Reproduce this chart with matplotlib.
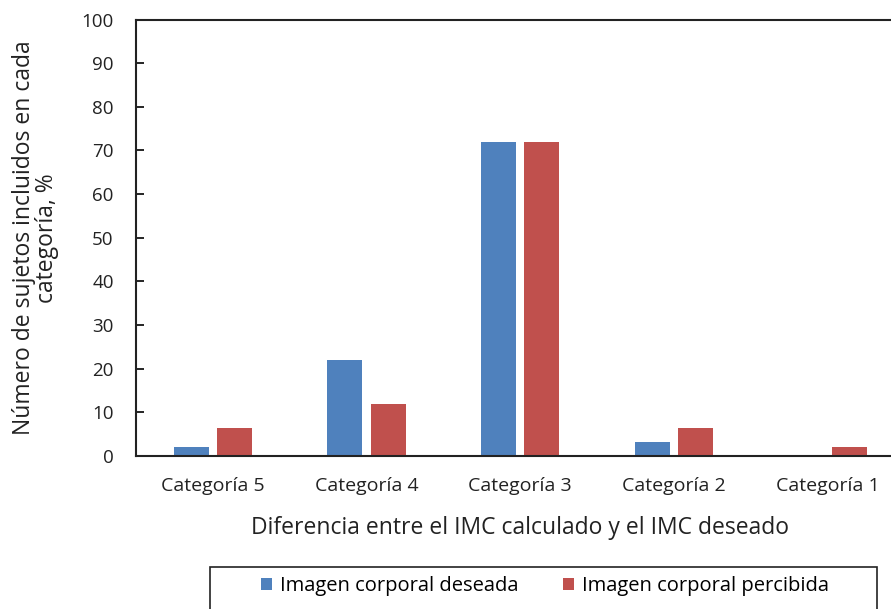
import numpy as np
from matplotlib import pyplot as plt
from matplotlib.patches import Rectangle

categorias = ["Categoría 5", "Categoría 4", "Categoría 3", "Categoría 2", "Categoría 1"]
deseada = [2, 22, 72, 3.3, 0]
percibida = [6.5, 12, 72, 6.5, 2]
y_ticks = list(range(0, 101, 10))

plt.rcParams['font.family'] = ['Open Sans', 'DejaVu Sans']

fig = plt.figure(figsize=(8.91, 6.09), dpi=100)
ax = fig.add_axes([0.1526, 0.2512, 0.8625, 0.7167])

x = np.arange(len(categorias))
w = 0.228
off = 0.141
ax.bar(x - off, deseada, w, color='#4F81BD', label="Imagen corporal deseada")
ax.bar(x + off, percibida, w, color='#C0504D', label="Imagen corporal percibida")

ax.set_xlim(-0.5, len(categorias) - 0.5)
ax.set_ylim(0, 100)
ax.set_yticks(y_ticks)
ax.set_xticks(x)
ax.set_xticklabels(categorias, fontsize=14, color='#222222')
ax.tick_params(axis='x', length=0, pad=15)
ax.tick_params(axis='y', direction='in', length=6, width=1.2, labelsize=13.5,
               labelcolor='#222222', pad=16)

for s in ax.spines.values():
    s.set_linewidth(1.5)
    s.set_color('#222222')

ax.set_xlabel("Diferencia entre el IMC calculado y el IMC deseado", fontsize=16.5,
              color='#222222', labelpad=15)
ax.set_ylabel("Número de sujetos incluidos en cada\ncategoría, %", fontsize=16.5,
              color='#222222', labelpad=16, multialignment='center', linespacing=0.95)

# legend box spans wider than its entries, so draw the frame separately
fig.patches.append(Rectangle((210 / 891, 1 - 612 / 609), 667 / 891, 45 / 609,
                             transform=fig.transFigure, fill=False,
                             edgecolor='#222222', linewidth=1.2))
fig.legend(loc='center', bbox_to_anchor=(545 / 891, 1 - 586 / 609), ncol=2,
           frameon=False, fontsize=14.5, handlelength=0.55, handleheight=0.55,
           columnspacing=2.2, handletextpad=0.4)

fig.savefig("out.png", dpi=100)
